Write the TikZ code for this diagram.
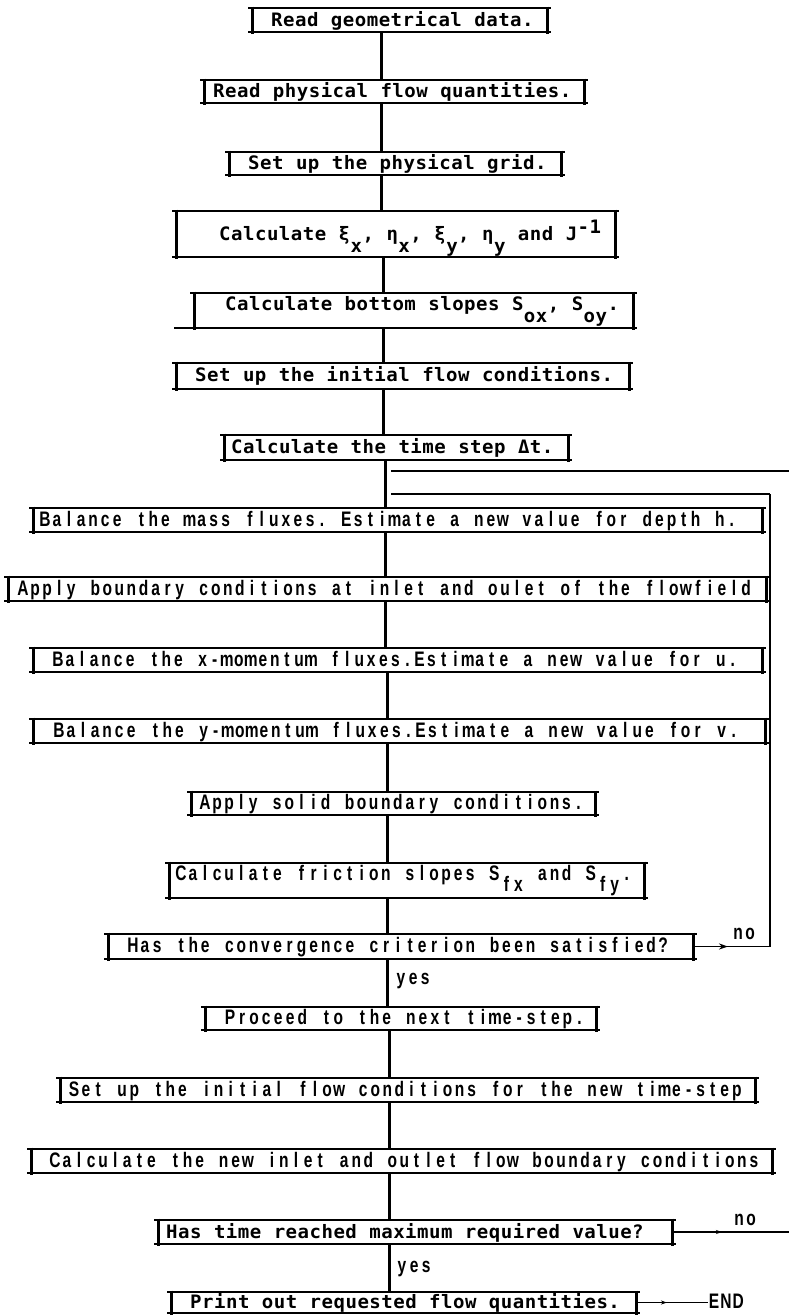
\documentclass[tikz,border=0pt]{standalone}
\usepackage{fontspec}
\usetikzlibrary{arrows.meta,fit}
\newfontfamily\topfont{DejaVu Sans Mono}[FakeStretch=1.03]
\newfontfamily\lowfont{Liberation Sans}[FakeStretch=0.74]
\newcommand\topf{\topfont\bfseries\fontsize{18.5pt}{20pt}\selectfont}
\newcommand\lowf{\lowfont\bfseries\fontsize{21pt}{22pt}\selectfont}
\ExplSyntaxOn
\NewDocumentCommand\tcells{m}{\str_map_inline:nn {#1} {\makebox[11.95pt]{##1}}}
\NewDocumentCommand\lcells{m}{\str_map_inline:nn {#1} {\makebox[12.05pt]{##1}}}
\ExplSyntaxOff
\newcommand\tsub[1]{\makebox[11.95pt]{\raisebox{-12pt}{#1}}}
\newcommand\lsub[1]{\makebox[12.05pt]{\raisebox{-11pt}{#1}}}
\newcommand\tsupr[1]{\raisebox{7pt}{\tcells{#1}}}
\begin{document}
\begin{tikzpicture}[x=1pt,y=-1pt,
  box/.style={inner sep=0pt, outer sep=0pt, draw=none},
  hl/.style={line width=1.7pt},
  bar/.style={line width=3pt},
  conn/.style={line width=3pt},
  vl/.style={line width=2.6pt},
  tt/.style={inner sep=0pt, outer sep=0pt, anchor=base west, font=\topf},
  lt/.style={inner sep=0pt, outer sep=0pt, anchor=base west, font=\lowf},
]
\fill[white] (0,0) rectangle (789,1315);
\useasboundingbox (0,0) rectangle (789,1315);

% boxes
\node[box, fit={(252,8) (547,32)}] (b1) {};
\node[box, fit={(204,80) (584,103)}] (b2) {};
\node[box, fit={(229,152) (561,175)}] (b3) {};
\node[box, fit={(176,211) (615,257)}] (b4) {};
\node[box, fit={(194,293) (633,328)}] (b5) {};
\node[box, fit={(176,363) (629,389)}] (b6) {};
\node[box, fit={(224,435) (568,460)}] (b7) {};
\node[box, fit={(33,508) (762,532)}] (b8) {};
\node[box, fit={(8,577) (766,601)}] (b9) {};
\node[box, fit={(33,648) (762,672)}] (b10) {};
\node[box, fit={(33,719) (765,743)}] (b11) {};
\node[box, fit={(191,792) (595,815)}] (b12) {};
\node[box, fit={(169,863) (644,898)}] (b13) {};
\node[box, fit={(108,934) (693,959)}] (b14) {};
\node[box, fit={(205,1007) (596,1030)}] (b15) {};
\node[box, fit={(60,1078) (755,1102)}] (b16) {};
\node[box, fit={(31,1149) (772,1173)}] (b17) {};
\node[box, fit={(158,1220) (672,1244)}] (b18) {};
\node[box, fit={(171,1292) (636,1313)}] (b19) {};

\foreach \i in {1,...,19}{
  \draw[hl] ([xshift=-4pt]b\i.north west) -- ([xshift=4pt]b\i.north east)
            ([xshift=-4pt]b\i.south west) -- ([xshift=4pt]b\i.south east);
  \draw[bar] ([yshift=1.5pt]b\i.north west) -- ([yshift=-1.5pt]b\i.south west)
             ([yshift=1.5pt]b\i.north east) -- ([yshift=-1.5pt]b\i.south east);
}
\coordinate (b5ext) at (174,328);
\draw[hl] (b5ext) -- (b5.south west);

% texts
\node[tt] (t1) at (271,26.5) {\tcells{Read geometrical data.}};
\node[tt] (t2) at (213,97) {\tcells{Read physical flow quantities.}};
\node[tt] (t3) at (248,169) {\tcells{Set up the physical grid.}};
\node[tt] (t4) at (219,240) {\tcells{Calculate ξ}\tsub{x}\tcells{, η}\tsub{x}\tcells{, ξ}\tsub{y}\tcells{, η}\tsub{y}\tcells{ and J}\tsupr{-1}};
\node[tt] (t5) at (225,310.5) {\tcells{Calculate bottom slopes S}\tsub{o}\tsub{x}\tcells{, S}\tsub{o}\tsub{y}\tcells{.}};
\node[tt] (t6) at (195,381.5) {\tcells{Set up the initial flow conditions.}};
\node[tt] (t7) at (231,453) {\tcells{Calculate the time step Δt.}};
\node[lt] (t8) at (39,526.5) {\lcells{Balance the mass  fluxes. Estimate a new value for depth h.}};
\node[lt] (t9) at (17,595.5) {\lcells{Apply boundary conditions at inlet and oulet of the flowfield}};
\node[lt] (t10) at (52,666.5) {\lcells{Balance the x-momentum fluxes.Estimate a new value for u.}};
\node[lt] (t11) at (53,737.5) {\lcells{Balance the y-momentum fluxes.Estimate a new value for v.}};
\node[lt] (t12) at (199,809.5) {\lcells{Apply solid boundary conditions.}};
\node[lt] (t13) at (175,880) {\lcells{Calculate friction slopes S}\lsub{f}\lsub{x}\lcells{ and S}\lsub{f}\lsub{y}\lcells{.}};
\node[lt] (t14) at (127,952.5) {\lcells{Has the  convergence criterion been satisfied?}};
\node[lt] (t15) at (224,1024.5) {\lcells{Proceed to the next time-step.}};
\node[lt] (t16) at (68,1096.5) {\lcells{Set up the initial flow conditions for the new time-step}};
\node[lt] (t17) at (49,1167.5) {\lcells{Calculate the new inlet and outlet flow boundary conditions}};
\node[tt] (t18) at (166,1238) {\tcells{Has time reached maximum required value?}};
\node[tt] (t19) at (190,1308.5) {\tcells{Print out requested flow quantities.}};

% main line
\coordinate (mA) at (381,0);
\coordinate (mB) at (383,0);
\coordinate (mC) at (385,0);
\coordinate (mD) at (387,0);
\coordinate (mE) at (389,0);
\draw[conn] (b1.south -| mA) -- (b2.north -| mA);
\draw[conn] (b2.south -| mA) -- (b3.north -| mA);
\draw[conn] (b3.south -| mA) -- (b4.north -| mA);
\draw[conn] (b4.south -| mB) -- (b5.north -| mB);
\draw[conn] (b5.south -| mB) -- (b6.north -| mB);
\draw[conn] (b6.south -| mB) -- (b7.north -| mB);
\draw[conn] (b7.south -| mC) -- (b8.north -| mC);
\draw[conn] (b8.south -| mC) -- (b9.north -| mC);
\draw[conn] (b9.south -| mC) -- (b10.north -| mC);
\draw[conn] (b10.south -| mD) -- (b11.north -| mD);
\draw[conn] (b11.south -| mD) -- (b12.north -| mD);
\draw[conn] (b12.south -| mD) -- (b13.north -| mD);
\draw[conn] (b13.south -| mD) -- (b14.north -| mD);
\draw[conn] (b14.south -| mD) -- (b15.north -| mD);
\draw[conn] (b15.south -| mE) -- (b16.north -| mE);
\draw[conn] (b16.south -| mE) -- (b17.north -| mE);
\draw[conn] (b17.south -| mE) -- (b18.north -| mE);
\draw[conn] (b18.south -| mE) -- (b19.north -| mE);

% loops
\coordinate (jA) at (391,471);
\coordinate (eA) at (789,471);
\coordinate (jB) at (391,494);
\coordinate (cB) at (770,494);
\coordinate (ax) at (728,0);
\coordinate (ax2) at (722,0);
\coordinate (ax3) at (667,0);
\draw[hl] (jA) -- (eA);
\draw[hl] (jB) -- (cB);
\draw[vl] (cB) -- (b14.east -| cB);
\draw[hl] (b14.east) -- (b14.east -| cB);
\draw[hl, -{Stealth[length=9pt,width=6pt]}] (b14.east) -- (b14.east -| ax);
\node[lt] (no1) at (732,939) {\lcells{no}};
\node[lt] (yes1) at (395,984) {\lcells{yes}};

\draw[hl] (b18.east) -- (b18.east -| eA);
\draw[hl, -{Stealth[length=6pt,width=4pt]}] (b18.east) -- (b18.east -| ax2);
\node[lt] (no2) at (733,1225) {\lcells{no}};
\node[lt] (yes2) at (396,1272) {\lcells{yes}};

\node[lt] (end) at (708,1308) {\lcells{END}};
\draw[hl] (b19.east) -- (b19.east -| end.west);
\draw[hl, -{Stealth[length=6pt,width=4pt]}] (b19.east) -- (b19.east -| ax3);
\end{tikzpicture}
\end{document}
